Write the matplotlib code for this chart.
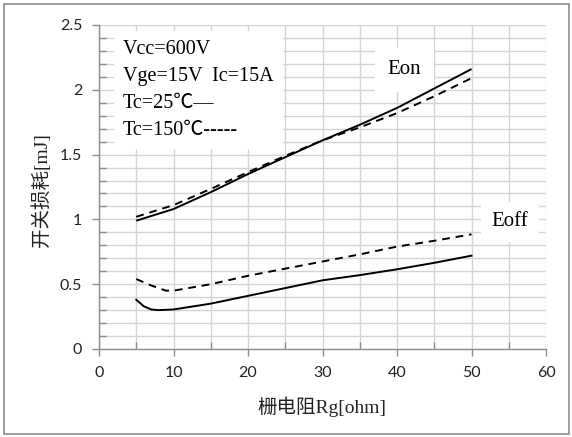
import matplotlib
matplotlib.use("Agg")
import matplotlib.pyplot as plt
from matplotlib.patches import Rectangle
from matplotlib.ticker import MultipleLocator

# Data
rg_on = [5, 10, 15, 20, 25, 30, 35, 40, 45, 50]
eon_25 = [0.99, 1.08, 1.21, 1.35, 1.48, 1.61, 1.73, 1.86, 2.01, 2.16]
eon_150 = [1.02, 1.11, 1.235, 1.365, 1.49, 1.61, 1.71, 1.82, 1.95, 2.09]

rg_off25 = [5, 6, 7, 8, 10, 15, 20, 25, 30, 35, 40, 45, 50]
eoff_25 = [0.38, 0.33, 0.305, 0.30, 0.305, 0.35, 0.41, 0.47, 0.53, 0.57, 0.615, 0.665, 0.72]
rg_off150 = [5, 7, 9, 10, 15, 20, 25, 30, 35, 40, 45, 50]
eoff_150 = [0.54, 0.49, 0.45, 0.45, 0.50, 0.565, 0.62, 0.675, 0.73, 0.79, 0.835, 0.885]

x_ticks = [0, 10, 20, 30, 40, 50, 60]
y_ticks = [0, 0.5, 1, 1.5, 2, 2.5]
y_ticklabels = ["0", "0.5", "1", "1.5", "2", "2.5"]

info_text = "Vcc=600V\nVge=15V  Ic=15A\nTc=25℃—\nTc=150℃-----"
xlabel = "栅电阻Rg[ohm]"
ylabel = "开关损耗[mJ]"

W, H = 572, 437
fig = plt.figure(figsize=(W / 100, H / 100), dpi=100)
ax = fig.add_axes([99 / W, 1 - 349 / H, (546 - 99) / W, (349 - 25) / H])

serif = ["Liberation Serif", "Noto Sans CJK SC"]
sans = ["Lato", "DejaVu Sans"]

ax.set_xlim(0, 60)
ax.set_ylim(0, 2.5)
ax.set_xticks(x_ticks)
ax.set_yticks(y_ticks)
ax.set_yticklabels(y_ticklabels)
ax.xaxis.set_minor_locator(MultipleLocator(5))
ax.yaxis.set_minor_locator(MultipleLocator(0.1))
ax.grid(True, which="both", color="#d4d4d4", linewidth=1.0)
ax.set_axisbelow(True)

for s in ["top", "right"]:
    ax.spines[s].set_visible(False)
for s in ["left", "bottom"]:
    ax.spines[s].set_color("#8c8c8c")
    ax.spines[s].set_linewidth(1.0)

ax.tick_params(which="major", direction="out", length=5, color="#8c8c8c", width=1.0,
               labelsize=11.5, pad=7)
ax.tick_params(which="minor", direction="in", length=5, color="#8c8c8c", width=1.0)
for lbl in ax.get_xticklabels() + ax.get_yticklabels():
    lbl.set_fontfamily(sans)
    lbl.set_color("#222222")

lw = 1.4
ax.plot(rg_on, eon_25, color="black", lw=lw, solid_capstyle="butt", zorder=5)
ax.plot(rg_on, eon_150, color="black", lw=lw, dashes=(4, 3), zorder=5)
ax.plot(rg_off25, eoff_25, color="black", lw=lw, zorder=5)
ax.plot(rg_off150, eoff_150, color="black", lw=lw, dashes=(4, 3), zorder=5)

# Info text box
ax.text(3.2, 2.385, info_text, fontsize=14.5, family=serif, va="top", ha="left",
        linespacing=1.58, zorder=4,
        bbox=dict(boxstyle="square,pad=0.45", facecolor="white", edgecolor="none"))

ax.text(41.0, 2.155, "Eon", fontsize=15, family=serif, ha="center", va="center", zorder=4,
        bbox=dict(boxstyle="square,pad=0.6", facecolor="white", edgecolor="none"))
ax.text(55.2, 0.98, "Eoff", fontsize=15, family=serif, ha="center", va="center", zorder=4,
        bbox=dict(boxstyle="square,pad=0.5", facecolor="white", edgecolor="none"))

fig.text(322 / W, 1 - 407 / H, xlabel, fontsize=14, family=serif, ha="center", va="center",
         color="#222222")
fig.text(41 / W, 1 - 190 / H, ylabel, fontsize=14, family=serif, ha="center", va="center",
         rotation=90, color="#222222")

# outer frame
fig.patches.append(Rectangle((3.5 / W, 3.5 / H), (W - 7) / W, (H - 7) / H,
                             transform=fig.transFigure, fill=False,
                             edgecolor="#8c8c8c", linewidth=1.2))

fig.savefig("out.png", dpi=100)
